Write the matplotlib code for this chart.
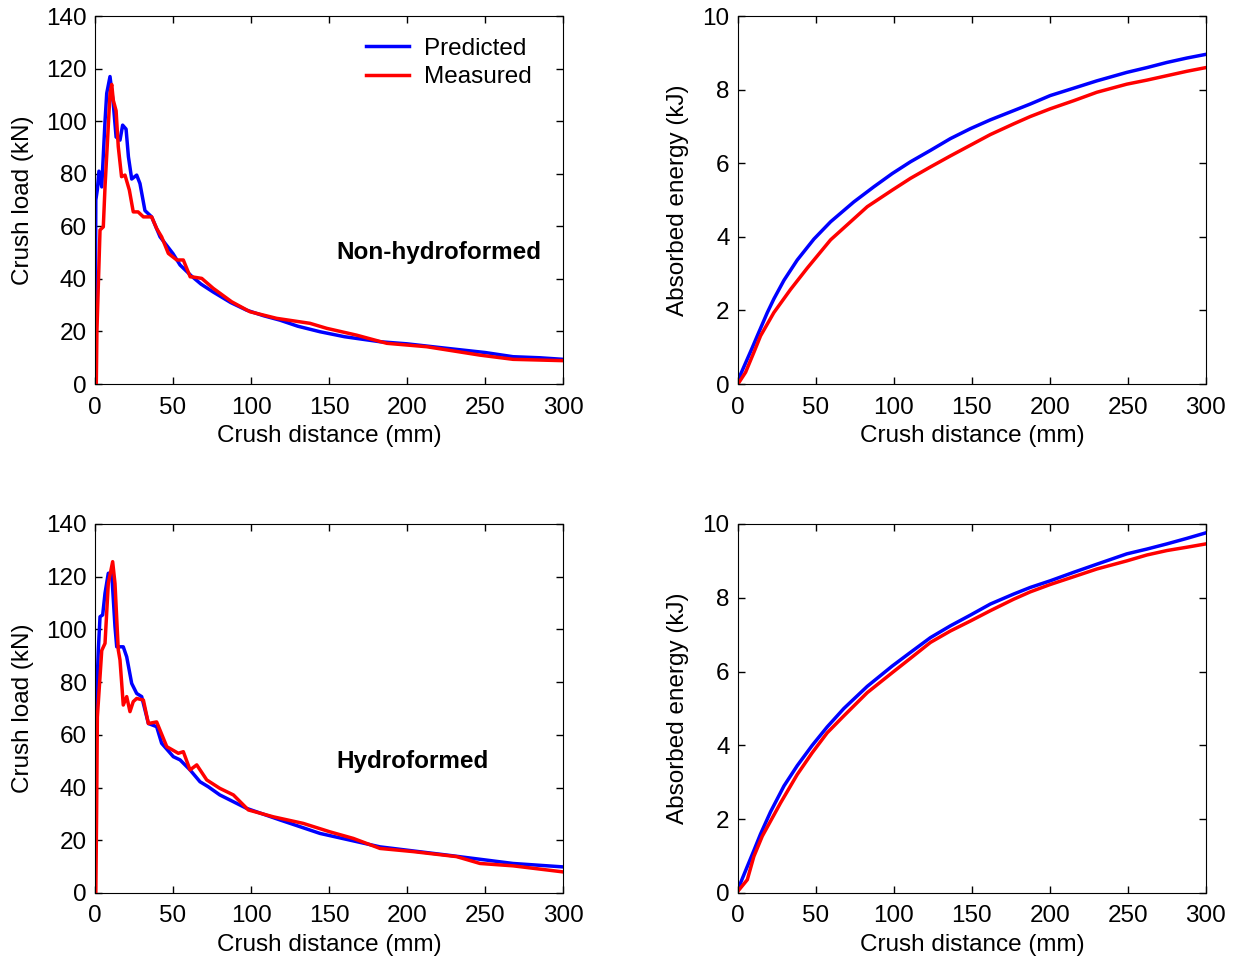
import matplotlib
matplotlib.use('Agg')
import matplotlib.pyplot as plt

plt.rcParams['font.family'] = ['Liberation Sans', 'DejaVu Sans']
plt.rcParams['font.size'] = 17.5

# crush load, non-hydroformed (mm, kN)
pred_nh_x = [0, 0.5, 1.5, 2.5, 4.3, 6.4, 7.5, 9.6, 11.7, 13.5, 16, 17.7, 19.9, 21.4, 23.5, 26.7, 28.8, 32, 36.3, 41.7, 50,
             54.5, 62, 68, 75.8, 87, 97.2, 108, 118.6, 130, 144.2, 160, 182.7, 200, 225.4, 250, 268, 285, 300]
pred_nh_y = [0, 70, 74, 81, 75, 100, 110.6, 117, 106.7, 94, 92.8, 98.5, 97, 86.5, 78, 79.5, 76.3, 66, 63.6, 56, 49.6,
             45.3, 41, 38, 35, 31, 28.1, 26, 24.3, 22, 19.9, 18, 16.1, 15.3, 13.6, 12, 10.4, 10, 9.4]
meas_nh_x = [0.8, 1.2, 3.2, 5.3, 6.4, 7.9, 9.6, 10.7, 11.7, 13.5, 14.9, 17, 19.2, 22, 24.5, 27.6, 31, 36.3, 39.5, 42.7, 47,
             52.4, 56.6, 61, 62, 68.4, 75.8, 87.6, 99.4, 116.4, 137.8, 148.5, 167.7, 187, 212.6, 246.8, 268, 300]
meas_nh_y = [0, 20, 58.6, 59.8, 75, 91.5, 110.6, 114, 108, 104, 90.3, 78.9, 79.5, 73.8, 65.5, 65.5, 63.6, 63.6, 59.2, 56, 49.7,
             47.2, 47.2, 40.8, 40.8, 40.2, 36.4, 31.3, 27.5, 25, 23.1, 21.2, 18.6, 15.5, 14.2, 11, 9.4, 8.9]

# crush load, hydroformed
pred_h_x = [0, 0.4, 1, 2.1, 3.2, 4.9, 6.4, 8.5, 10.7, 12.8, 13.9, 18.1, 20.3, 23.5, 26.7, 29.9, 34.2, 39.5, 42.7, 50.2,
            54.5, 60.9, 67.3, 72.6, 80, 97.2, 118.6, 144.2, 182.7, 225.4, 268, 300]
pred_h_y = [0, 55, 74.5, 92, 104.8, 105.5, 113.7, 121.3, 121.3, 101, 93.4, 93.4, 89.6, 79.5, 75.7, 74.5, 64.3, 63.1, 56.8,
            51.7, 50.5, 46.7, 42.2, 40.3, 37.2, 32.1, 27.7, 22.6, 17.5, 14.4, 11.2, 9.9]
meas_h_x = [0.5, 1, 1.5, 4.3, 6.4, 8.5, 11.3, 12.8, 14.9, 16, 17.1, 18.1, 20.3, 22.4, 24.5, 26.7, 31, 34.2, 39.5, 46,
            53.4, 56.6, 60.9, 65.2, 71.6, 80, 88.7, 98.3, 114.3, 133.5, 150.6, 165.6, 182.7, 204, 231.8, 246.8, 268, 300]
meas_h_y = [0, 30, 66.8, 92, 94.7, 117.4, 125.7, 117.4, 92.2, 88.4, 79.5, 71.3, 74.5, 68.8, 72.6, 73.8, 73.2, 64.3, 64.9,
            55.5, 53, 53.6, 46.7, 48.6, 42.9, 39.7, 37.2, 31.5, 28.9, 26.4, 23.2, 20.7, 16.9, 15.7, 13.8, 11.2, 10.3, 8]

# absorbed energy (mm, kJ)
e_pred_nh_x = [0, 6, 9.2, 12.4, 18.8, 23.1, 29.5, 38, 48.7, 59.4, 74.3, 87.1, 98.9, 110.6, 123.4, 136.2, 149, 161.8,
               176.7, 187.4, 200.2, 215.2, 230.1, 249.3, 262.2, 275, 287.8, 300]
e_pred_nh_y = [0.1, 0.68, 0.99, 1.31, 1.94, 2.32, 2.82, 3.37, 3.94, 4.41, 4.95, 5.36, 5.72, 6.04, 6.35, 6.67, 6.94, 7.18,
               7.43, 7.61, 7.84, 8.04, 8.24, 8.47, 8.6, 8.74, 8.86, 8.96]
e_meas_nh_x = [0, 4.9, 10.2, 14.5, 23, 33.7, 44.4, 59.4, 72.2, 82.9, 98.9, 110.6, 123.4, 136.2, 149, 161.8, 176.7,
               187.4, 200.2, 215.2, 230.1, 249.3, 262.2, 275, 287.8, 300]
e_meas_nh_y = [0, 0.32, 0.86, 1.31, 1.94, 2.57, 3.15, 3.92, 4.41, 4.82, 5.27, 5.59, 5.9, 6.2, 6.49, 6.78, 7.07,
               7.27, 7.48, 7.7, 7.93, 8.15, 8.26, 8.38, 8.5, 8.6]
e_pred_h_x = [0, 6, 10.2, 14.5, 20.9, 29.5, 38, 47.6, 57.2, 67.9, 82.9, 98.9, 110.6, 123.4, 136.2, 149, 161.8, 176.7,
              187.4, 200.2, 215.2, 230.1, 249.3, 262.2, 275, 287.8, 300]
e_pred_h_y = [0.1, 0.72, 1.15, 1.6, 2.2, 2.9, 3.45, 4.0, 4.5, 5.0, 5.6, 6.15, 6.52, 6.92, 7.24, 7.53, 7.83, 8.1,
              8.28, 8.46, 8.69, 8.91, 9.19, 9.32, 9.46, 9.61, 9.76]
e_meas_h_x = [0, 6, 10.2, 15.6, 27.3, 38, 47.6, 57.2, 67.9, 82.9, 98.9, 110.6, 123.4, 136.2, 149, 161.8, 176.7, 187.4,
              200.2, 215.2, 230.1, 249.3, 262.2, 275, 287.8, 300]
e_meas_h_y = [0.05, 0.36, 0.99, 1.54, 2.44, 3.21, 3.8, 4.34, 4.8, 5.43, 5.97, 6.36, 6.79, 7.1, 7.37, 7.65, 7.96, 8.16,
              8.36, 8.57, 8.78, 9.0, 9.16, 9.28, 9.37, 9.46]

lw = 2.5
fig = plt.figure(figsize=(12.39, 9.63), dpi=100)


def setup(ax, ymax, ystep, ylabel, labx):
    ax.set_xlim(0, 300)
    ax.set_ylim(0, ymax)
    ax.set_xticks(range(0, 301, 50))
    ax.set_yticks(range(0, ymax + 1, ystep))
    ax.tick_params(direction='in', top=True, right=True, length=5, width=1)
    ax.tick_params(axis='x', pad=9)
    ax.tick_params(axis='y', pad=6)
    ax.set_xlabel('Crush distance (mm)', labelpad=5)
    ax.set_ylabel(ylabel)
    ax.yaxis.set_label_coords(labx, 0.5)


ax1 = fig.add_axes([0.0767, 0.6012, 0.3777, 0.3821])
ax1.plot(pred_nh_x, pred_nh_y, color='#0000ff', lw=lw, label='Predicted')
ax1.plot(meas_nh_x, meas_nh_y, color='#ff0000', lw=lw, label='Measured')
setup(ax1, 140, 20, 'Crush load (kN)', -0.13)
ax1.text(155, 50, 'Non-hydroformed', fontweight='bold', va='center')
ax1.legend(frameon=False, loc='upper right', bbox_to_anchor=(0.98, 1.0),
           handlelength=1.8, handletextpad=0.6, labelspacing=0.25)

ax2 = fig.add_axes([0.5956, 0.6012, 0.3777, 0.3821])
ax2.plot(e_pred_nh_x, e_pred_nh_y, color='#0000ff', lw=lw)
ax2.plot(e_meas_nh_x, e_meas_nh_y, color='#ff0000', lw=lw)
setup(ax2, 10, 2, 'Absorbed energy (kJ)', -0.105)

ax3 = fig.add_axes([0.0767, 0.0727, 0.3777, 0.3832])
ax3.plot(pred_h_x, pred_h_y, color='#0000ff', lw=lw)
ax3.plot(meas_h_x, meas_h_y, color='#ff0000', lw=lw)
setup(ax3, 140, 20, 'Crush load (kN)', -0.13)
ax3.text(155, 50, 'Hydroformed', fontweight='bold', va='center')

ax4 = fig.add_axes([0.5956, 0.0727, 0.3777, 0.3832])
ax4.plot(e_pred_h_x, e_pred_h_y, color='#0000ff', lw=lw)
ax4.plot(e_meas_h_x, e_meas_h_y, color='#ff0000', lw=lw)
setup(ax4, 10, 2, 'Absorbed energy (kJ)', -0.105)

plt.savefig('out.png', dpi=100)
